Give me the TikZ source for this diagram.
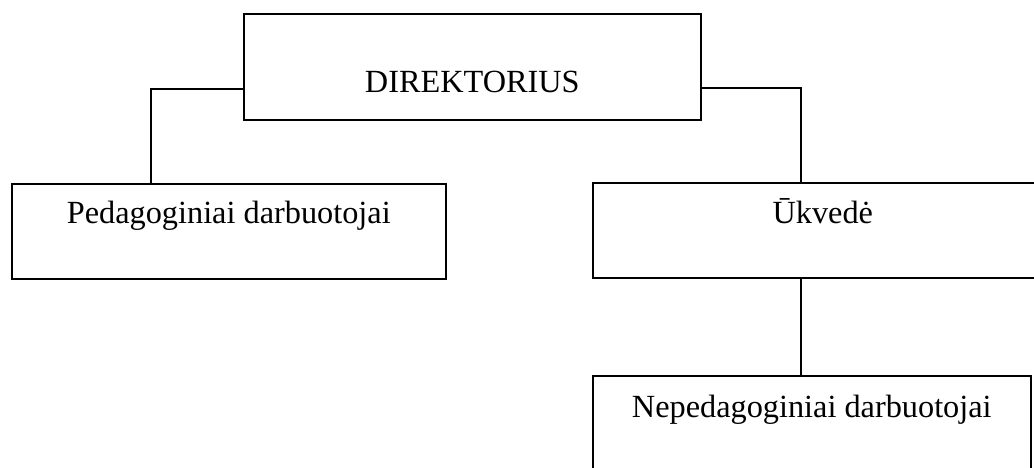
\documentclass[tikz,border=0pt]{standalone}
\usepackage{fontspec}
\setmainfont{Liberation Serif}
\begin{document}
\begin{tikzpicture}[x=1pt,y=-1pt,
  orgbox/.style={draw,line width=1.6pt,inner sep=0pt,anchor=north west,font=\fontsize{32.3}{36}\selectfont},
  conn/.style={line width=1.6pt}]
\useasboundingbox (0,0) rectangle (1034,468);
\clip (0,0) rectangle (1034,468);
\node[orgbox,minimum width=457pt,text height=79pt,text depth=27pt] (dir) at (243,13) {DIREKTORIUS};
\node[orgbox,minimum width=434pt,text height=40pt,text depth=55pt] (ped) at (11,183) {Pedagoginiai darbuotojai};
\node[orgbox,minimum width=460pt,text height=41pt,text depth=54pt] (uk) at (592,182) {Ūkvedė};
\node[orgbox,minimum width=438pt,text height=42pt,text depth=63pt] (nep) at (592,375) {Nepedagoginiai darbuotojai};
\draw[conn] ([yshift=-22pt]dir.west) -| ([xshift=140pt]ped.north west);
\draw[conn] ([yshift=-21pt]dir.east) -| ([xshift=209pt]uk.north west);
\draw[conn] ([xshift=209pt]uk.south west) -- ([xshift=209pt]nep.north west);
\end{tikzpicture}
\end{document}
